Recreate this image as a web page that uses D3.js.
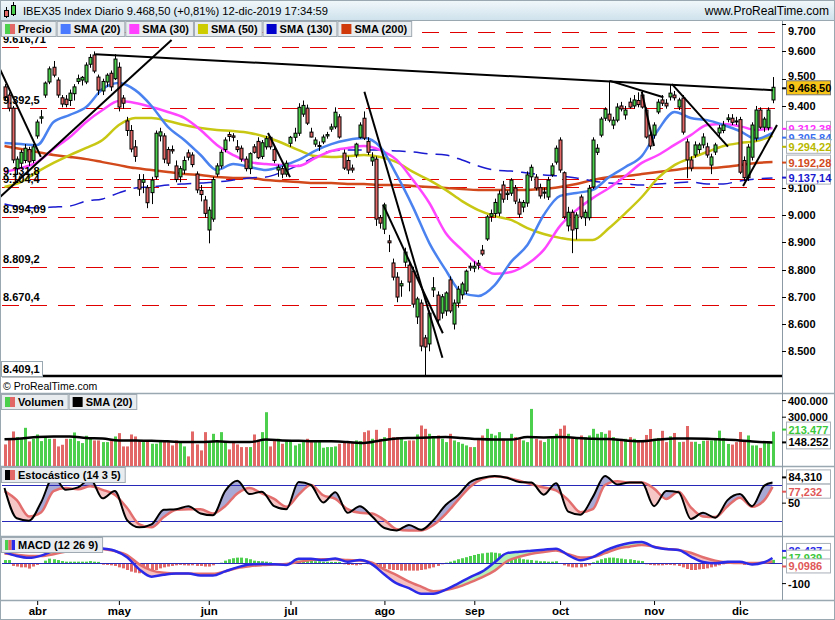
<!DOCTYPE html>
<html lang="es">
<head>
<meta charset="UTF-8">
<script src="https://d3js.org/d3.v7.min.js"></script>
<title>IBEX35 Diario</title>
<style>
  body { margin: 0; background: #fff; }
  text { font-family: "Liberation Sans", Arial, sans-serif; }
</style>
</head>
<body>
<div id="chart"></div>
<script>
// ---- values (bar index 0 = 20-mar-2019, 188 = 12-dic-2019) ----
const monthIdx = [8, 28, 50, 70, 93, 115, 136, 159, 180];
const monthLbl = ["abr", "may", "jun", "jul", "ago", "sep", "oct", "nov", "dic"];

const openP = [9470,9440,9392,9170,9190,9200,9240,9200,9290,9355,
  9440,9488,9542,9495,9430,9425,9420,9445,9490,9495,9488,9553,9587,9506,9455,9488,9520,9500,9542,9429,
  9345,9310,9250,9130,9120,9100,9082,9140,9290,9290,9240,9240,9180,9140,9165,9228,9220,9150,9090,9055,
  8945,8985,9150,9180,9240,9295,9290,9250,9245,9205,9170,9250,9270,9215,9250,9285,9240,9165,9170,9150,
  9263,9285,9300,9370,9392,9304,9260,9252,9268,9290,9315,9323,9360,9227,9200,9172,9220,9285,9355,9270,
  9198,9205,8990,8948,8905,8824,8772,8740,8827,8816,8794,8626,8677,8549,8527,8725,8706,8640,8648,8762,
  8600,8677,8707,8721,8812,8805,8823,8871,8912,8995,9005,9007,9110,9075,9080,9099,9047,9029,9044,9140,
  9139,9100,9080,9066,9147,9194,9275,9155,8960,9010,8950,9066,8990,8990,9103,9230,9293,9355,9370,9330,
  9348,9400,9367,9414,9400,9420,9440,9385,9293,9293,9378,9422,9410,9433,9440,9396,9429,9268,9202,9220,
  9240,9257,9250,9183,9231,9301,9310,9350,9355,9345,9350,9200,9137,9212,9282,9385,9322,9320,9422];
const highP = [9480,9450,9400,9215,9240,9260,9250,9260,9350,9385,
  9490,9545,9565,9505,9440,9440,9460,9480,9515,9510,9560,9590,9600,9515,9500,9520,9530,9590,9560,9440,
  9360,9330,9275,9150,9150,9110,9140,9310,9320,9300,9250,9255,9200,9180,9215,9240,9230,9160,9110,9070,
  9030,9140,9190,9240,9285,9305,9300,9275,9255,9215,9230,9260,9285,9275,9290,9290,9250,9185,9180,9200,
  9290,9320,9410,9420,9405,9320,9285,9270,9295,9305,9335,9395,9370,9240,9215,9185,9265,9340,9380,9285,
  9230,9215,9000,9045,8927,8840,8790,8760,8880,8830,8810,8700,8690,8560,8650,8772,8720,8710,8720,8775,
  8690,8740,8755,8800,8825,8830,8835,8890,9000,9020,9060,9090,9125,9090,9135,9110,9060,9055,9160,9185,
  9150,9115,9100,9140,9190,9255,9285,9160,9030,9020,9010,9075,9020,9110,9285,9260,9360,9395,9493,9360,
  9410,9415,9400,9430,9440,9450,9455,9395,9305,9340,9425,9440,9425,9480,9455,9430,9440,9280,9215,9270,
  9265,9300,9265,9225,9265,9330,9345,9370,9370,9360,9360,9215,9260,9340,9400,9395,9360,9395,9506];
const lowP = [9420,9380,9190,9150,9170,9190,9180,9190,9280,9335,
  9430,9480,9505,9430,9395,9395,9400,9420,9480,9475,9480,9540,9520,9440,9440,9470,9455,9495,9380,9390,
  9290,9230,9195,9070,9080,9025,9040,9130,9270,9190,9180,9225,9120,9120,9150,9200,9175,9080,9050,8990,
  8896,8975,9140,9170,9230,9270,9270,9230,9195,9160,9150,9225,9205,9205,9240,9240,9190,9140,9135,9140,
  9250,9270,9290,9360,9330,9285,9250,9235,9260,9280,9305,9315,9280,9165,9150,9155,9210,9280,9275,9220,
  9180,8960,8950,8930,8864,8760,8680,8700,8810,8720,8660,8600,8500,8409,8500,8699,8600,8620,8630,8640,
  8580,8660,8690,8710,8795,8790,8800,8850,8905,8975,8990,8995,9045,9055,9070,9040,8990,9010,9030,9125,
  9090,9060,9060,9055,9140,9185,9155,8985,8940,8860,8910,8985,8960,8980,9095,9220,9285,9345,9340,9315,
  9340,9380,9350,9390,9390,9395,9390,9280,9240,9280,9370,9400,9390,9420,9420,9385,9295,9135,9160,9210,
  9225,9245,9210,9150,9220,9290,9300,9340,9330,9330,9150,9125,9125,9200,9270,9315,9305,9310,9410];
const closeP = [9431,9392,9202,9205,9230,9245,9195,9250,9341,9360,
  9484,9536,9513,9440,9407,9405,9447,9470,9500,9505,9550,9578,9528,9458,9490,9513,9470,9572,9396,9410,
  9310,9242,9215,9095,9130,9045,9128,9300,9305,9205,9190,9235,9130,9170,9200,9212,9185,9092,9075,9006,
  9018,9130,9180,9230,9275,9288,9285,9240,9205,9170,9225,9230,9210,9265,9280,9250,9200,9175,9150,9190,
  9285,9300,9395,9402,9337,9286,9275,9255,9286,9295,9323,9377,9286,9172,9165,9165,9260,9330,9282,9230,
  9212,8985,8970,9037,8898,8772,8699,8748,8864,8754,8673,8692,8519,8516,8640,8733,8615,8700,8714,8648,
  8677,8728,8747,8794,8806,8812,8816,8857,8993,9005,9046,9077,9058,9080,9128,9051,9003,9046,9147,9175,
  9099,9070,9084,9128,9180,9245,9165,8993,9010,8945,9000,8993,9010,9098,9275,9245,9352,9388,9348,9348,
  9396,9389,9385,9396,9422,9405,9396,9286,9253,9330,9414,9410,9400,9447,9430,9422,9304,9202,9172,9257,
  9257,9286,9220,9213,9257,9319,9330,9356,9340,9342,9157,9137,9249,9330,9385,9322,9352,9385,9468.5];

const volK = [136,170,214,180,170,236,154,170,196,156,184,170,170,124,134,170,170,208,156,144,
  188,170,160,160,150,150,160,184,204,124,124,196,184,160,150,156,140,140,160,160,
  154,130,160,156,124,64,214,136,100,210,150,200,160,210,154,106,150,136,120,120,
  120,196,164,210,330,124,156,170,140,156,156,130,140,150,170,150,150,154,116,120,
  120,124,140,156,150,150,160,156,210,220,170,224,170,180,234,180,180,170,156,160,
  160,196,250,230,200,180,190,170,150,200,160,150,140,130,120,
  120,170,190,230,200,190,210,170,160,200,180,170,160,150,350,170,160,150,170,180,200,
  230,250,200,180,170,190,180,190,230,200,210,200,220,180,170,160,170,180,170,160,
  152,193,229,170,175,218,150,185,205,150,152,247,152,152,139,158,160,160,175,219,175,139,135,150,211,152,190,130,130,115,150,155,213];

// moving averages, read every 4th bar
const sma20 = [9264,9260,9257,9341,9367,9396,9462,9484,9458,9400,9323,9275,9220,9165,9187,9176,9165,9180,9202,9235,9260,9275,9282,9249,9147,9029,8897,8798,8714,8703,8743,8828,8890,9000,9070,9081,9092,9139,9176,9216,9312,9378,9356,9348,9330,9308,9279,9301];
const sma30 = [9158,9172,9194,9242,9286,9341,9385,9418,9411,9396,9378,9356,9312,9257,9220,9194,9187,9183,9180,9209,9235,9246,9253,9238,9202,9128,9044,8934,8872,8817,8784,8791,8820,8872,8960,9018,9062,9099,9143,9191,9220,9257,9293,9330,9334,9326,9312,9319];
const sma50 = [9103,9121,9158,9191,9220,9246,9275,9330,9356,9356,9345,9330,9319,9312,9308,9301,9286,9264,9238,9216,9213,9216,9220,9213,9194,9158,9128,9092,9051,9018,8996,8982,8952,8930,8916,8908,8908,8952,9007,9066,9136,9183,9209,9231,9253,9264,9271,9290];
const sma130 = [9040,9029,9026,9029,9033,9051,9059,9081,9099,9103,9110,9114,9117,9121,9128,9136,9139,9158,9183,9213,9235,9238,9238,9238,9235,9231,9224,9220,9202,9180,9165,9161,9154,9147,9143,9136,9125,9117,9114,9110,9114,9117,9121,9114,9114,9125,9132,9136];
const sma200 = [9253,9242,9231,9220,9213,9205,9194,9183,9172,9165,9158,9150,9147,9139,9136,9136,9128,9125,9121,9117,9117,9114,9114,9110,9110,9106,9103,9099,9095,9092,9092,9092,9092,9095,9103,9114,9128,9139,9143,9150,9158,9165,9172,9172,9176,9183,9191,9194];
const volSma = [167,172,180,183,183,175,172,160,160,158,155,150,150,155,150,150,165,160,158,155,155,150,145,160,172,175,178,180,175,168,165,165,180,178,180,175,170,168,160,155,165,172,172,170,165,160,152,148];

// stochastic and MACD, read every 3rd bar (last point = bar 188)
const stochK = [75,25,21,52,94,72,76,90,58,70,22,10,15,39,40,45,33,30,70,87,65,69,45,40,85,80,51,68,34,45,28,9,5,14,6,22,47,63,85,92,95,92,85,84,64,83,36,31,60,95,81,84,84,45,70,68,24,34,26,55,65,45,79,84];
const stochD = [70,55,28,35,70,75,73,78,72,64,42,15,10,27,39,40,40,33,45,66,75,66,57,44,64,80,63,57,40,34,33,22,7,5,5,14,32,55,77,90,94,92,87,81,76,71,55,35,40,80,86,84,84,74,57,69,43,28,27,45,59,44,55,77];
const macdL = [55,36,27,38,62,80,88,85,73,62,30,-30,-66,-56,-50,-50,-60,-60,-40,-20,-6,-3,-5,-8,22,22,16,24,8,16,-5,-55,-99,-122,-150,-150,-130,-100,-68,-40,5,50,57,62,67,72,40,15,30,62,85,100,105,80,70,66,33,6,0,8,8,-6,5,26];
const signalL = [48,42,36,36,45,58,70,74,70,60,40,-5,-35,-47,-50,-50,-52,-52,-40,-23,-14,-9,-6,-3,7,16,20,20,16,14,3,-30,-58,-90,-115,-138,-132,-117,-94,-68,-36,10,32,47,56,63,45,28,31,50,72,82,90,82,71,66,52,30,13,4,1,1,4,9];
const histo = [16,16,-13,-16,-20,-20,-26,-16,-8,-3,13,23,20,16,11,8,8,8,8,8,
  8,11,8,7,-7,-8,-10,-13,-20,-25,-33,-41,-46,-49,-49,-44,-36,-33,-25,-20,
  -16,-13,-10,-8,-10,-11,-10,-13,-13,-16,-16,-10,-3,3,13,20,25,28,28,25,
  20,13,11,10,8,5,-3,-5,-3,-3,7,11,20,23,20,13,10,10,8,8,
  7,7,7,-5,-8,-8,-10,-7,-3,-5,-10,-16,-25,-25,-30,-33,-33,-36,-36,-36,
  -36,-36,-33,-30,-25,-20,-13,-5,3,8,13,20,25,30,36,41,46,49,52,54,
  52,49,44,38,33,28,25,20,18,16,13,10,10,8,8,10,-3,-10,-16,-20,
  -20,-20,-16,-10,5,13,20,25,28,28,25,23,20,20,16,13,
  11,-5,-8,-10,-10,-10,-8,-8,-10,-13,-20,-28,-33,-33,-30,-28,-25,-20,-16,-10,-5,-3,2,3,-3,-8,-8,-5,-3,-3,2,8,17];

// horizontal levels drawn on the chart
const levels = [9672, 9616.71, 9392.5, 9131.8, 9104.4, 8994.09, 8809.2, 8670.4];
const levelLbl = ["", "9.616,71", "9.392,5", "9.131,8", "9.104,4", "8.994,09", "8.809,2", "8.670,4"];
// trend lines [bar, price, bar, price]
const trendLines = [
  [-1.1, 9535, 8.9, 9213], [-1.1, 9066, 40.9, 9642], [22.2, 9590, 188.1, 9458],
  [64.5, 9301, 69.9, 9139], [88.1, 9452, 107.2, 8476], [92.7, 9037, 107.3, 8566],
  [148.2, 9492, 161.3, 9432], [163.4, 9480, 177.1, 9251], [156, 9452, 159, 9253],
  [180.8, 9106, 189.1, 9330]];
const supportLevel = 8409.1;

const N = closeP.length;
const es = d3.formatLocale({decimal: ",", thousands: ".", grouping: [3], currency: ["", "€"]});
const f0 = es.format(",.0f");

const W = 835, H = 620, R = 782;
const FS = 11;
const svg = d3.select("#chart").append("svg").attr("width", W).attr("height", H).style("display", "block");
const defs = svg.append("defs");

const x = d3.scaleLinear().domain([0, 188]).range([4.5, 772.5]);
const y = d3.scaleLinear().domain([8809.2, 9392.5]).range([267, 108]);
const yv = d3.scaleLinear().domain([0, 400]).range([467, 400.6]);
const ys = d3.scaleLinear().domain([20, 80]).range([521.3, 485]);
const ym = d3.scaleLinear().domain([-100, 100]).range([583.6, 543]);

const GREEN = "#4ccf4c", RED = "#e26868";
const up = i => closeP[i] >= openP[i];

function clip(id, y0, y1) {
  defs.append("clipPath").attr("id", id).append("rect").attr("x", 1).attr("y", y0).attr("width", R - 1).attr("height", y1 - y0);
}
clip("cMain", 21, 393); clip("cVol", 394, 466); clip("cSto", 467, 536); clip("cMacd", 537, 600);

// background and title bar
svg.append("rect").attr("width", W).attr("height", H).attr("fill", "#fff");
const grad = defs.append("linearGradient").attr("id", "tg").attr("x1", 0).attr("x2", 0).attr("y1", 0).attr("y2", 1);
grad.append("stop").attr("offset", 0).attr("stop-color", "#f2f8fb");
grad.append("stop").attr("offset", 1).attr("stop-color", "#cfe2ec");
svg.append("rect").attr("x", 0).attr("y", 0).attr("width", W).attr("height", 20).attr("fill", "url(#tg)");
svg.append("line").attr("x1", 0).attr("x2", W).attr("y1", 20.5).attr("y2", 20.5).attr("stroke", "#9aa8b2");
svg.append("line").attr("x1", 6.5).attr("x2", 6.5).attr("y1", 7).attr("y2", 18).attr("stroke", "#000");
svg.append("rect").attr("x", 4.5).attr("y", 10.5).attr("width", 4).attr("height", 6).attr("fill", RED).attr("stroke", "#000");
svg.append("line").attr("x1", 13.5).attr("x2", 13.5).attr("y1", 2).attr("y2", 16).attr("stroke", "#000");
svg.append("rect").attr("x", 11.5).attr("y", 5.5).attr("width", 4).attr("height", 9).attr("fill", GREEN).attr("stroke", "#000");
svg.append("text").attr("x", 23).attr("y", 15).attr("font-size", 11.2).text("IBEX35 Index Diario 9.468,50 (+0,81%) 12-dic-2019 17:34:59");
svg.append("text").attr("x", 829).attr("y", 15).attr("font-size", 12).attr("text-anchor", "end").text("www.ProRealTime.com");

// panel frames
[393.5, 466.5, 536.5, 600.5].forEach(v => svg.append("line").attr("x1", 0).attr("x2", W).attr("y1", v).attr("y2", v).attr("stroke", "#9aa8b2").attr("stroke-width", 1.5));
svg.append("line").attr("x1", R + 0.5).attr("x2", R + 0.5).attr("y1", 21).attr("y2", 600).attr("stroke", "#8c9aa6");
svg.append("rect").attr("x", 0.5).attr("y", 0.5).attr("width", W - 1).attr("height", H - 1).attr("fill", "none").attr("stroke", "#9aa8b2");

// ---- main price panel ----
const gm = svg.append("g").attr("clip-path", "url(#cMain)");
gm.selectAll("line.lev").data(levels).join("line")
  .attr("x1", 2).attr("x2", R).attr("y1", d => Math.round(y(d)) + 0.5).attr("y2", d => Math.round(y(d)) + 0.5)
  .attr("stroke", "#e00000").attr("stroke-dasharray", "17,11");

const smaIdx = d3.range(0, 189, 4);
const smaLine = d3.line().x((d, i) => x(smaIdx[i])).y(d => y(d)).curve(d3.curveMonotoneX);
gm.append("path").attr("d", smaLine(sma200)).attr("fill", "none").attr("stroke", "#d24a1c").attr("stroke-width", 2.5);
gm.append("path").attr("d", smaLine(sma130)).attr("fill", "none").attr("stroke", "#1a1ad0").attr("stroke-width", 1.5).attr("stroke-dasharray", "14,8");
gm.append("path").attr("d", smaLine(sma50)).attr("fill", "none").attr("stroke", "#c8c814").attr("stroke-width", 2.5);
gm.append("path").attr("d", smaLine(sma30)).attr("fill", "none").attr("stroke", "#ff45ff").attr("stroke-width", 2.5);
gm.append("path").attr("d", smaLine(sma20)).attr("fill", "none").attr("stroke", "#4a82f0").attr("stroke-width", 2.5);

const bars = d3.range(N);
const cx = i => Math.round(x(i)) + 0.5;
gm.selectAll("line.wick").data(bars).join("line")
  .attr("x1", cx).attr("x2", cx).attr("y1", i => y(highP[i])).attr("y2", i => y(lowP[i]))
  .attr("stroke", "#000");
gm.selectAll("rect.body").data(bars).join("rect")
  .attr("x", i => cx(i) - 1.5).attr("width", 3)
  .attr("y", i => y(Math.max(openP[i], closeP[i])))
  .attr("height", i => Math.max(1, Math.abs(y(openP[i]) - y(closeP[i]))))
  .attr("fill", i => up(i) ? GREEN : RED)
  .attr("stroke", "#000").attr("stroke-width", 1);

gm.selectAll("line.trend").data(trendLines).join("line")
  .attr("x1", d => x(d[0])).attr("y1", d => y(d[1])).attr("x2", d => x(d[2])).attr("y2", d => y(d[3]))
  .attr("stroke", "#000").attr("stroke-width", 2);
gm.append("line").attr("x1", 2).attr("x2", R).attr("y1", y(supportLevel)).attr("y2", y(supportLevel)).attr("stroke", "#000").attr("stroke-width", 2.5);

gm.selectAll("text.lev").data(levels).join("text")
  .attr("x", 3).attr("y", d => y(d) - 4).attr("font-size", FS).attr("font-weight", "bold")
  .text((d, i) => levelLbl[i]);
gm.append("rect").attr("x", 1.5).attr("y", 361.5).attr("width", 41).attr("height", 15).attr("fill", "#fff").attr("stroke", "#9aa8b2");
gm.append("text").attr("x", 3).attr("y", 373).attr("font-size", FS).attr("font-weight", "bold").text("8.409,1");
svg.append("text").attr("x", 3).attr("y", 390).attr("font-size", 10.5).text("© ProRealTime.com");

// price axis
const priceTicks = [8500, 8600, 8700, 8800, 8900, 9000, 9100, 9400, 9500, 9600, 9700];
const ga = svg.append("g");
ga.selectAll("line").data(priceTicks).join("line")
  .attr("x1", R).attr("x2", R + 4).attr("y1", d => Math.round(y(d)) + 0.5).attr("y2", d => Math.round(y(d)) + 0.5).attr("stroke", "#000");
ga.selectAll("text").data(priceTicks).join("text")
  .attr("x", 788).attr("y", d => Math.max(y(d) - (d === 9500 ? 3 : 0), 31) + 4).attr("font-size", FS).attr("font-weight", "bold").text(d => f0(d));

// value tags on the right
function tag(yc, txt, color, bg) {
  svg.append("line").attr("x1", R).attr("x2", R + 5).attr("y1", yc).attr("y2", yc).attr("stroke", color).attr("stroke-width", 2);
  svg.append("rect").attr("x", 786.5).attr("y", yc - 7.5).attr("width", 44).attr("height", 14)
    .attr("fill", bg || "#fff").attr("stroke", bg ? "#777" : "#a8b0b8");
  svg.append("text").attr("x", 788.5).attr("y", yc + 4).attr("font-size", FS).attr("font-weight", "bold").attr("fill", bg ? "#000" : color).text(txt);
}
tag(y(9468.5) + 1, "9.468,50", "#000", "#f6c417");
tag(y(9312.38) - 1, "9.312,38", "#ff30ff");
tag(y(9305.84) + 6, "9.305,84", "#3a6ff0");
tag(y(9294.22) + 12, "9.294,22", "#b8b800");
tag(y(9192.28), "9.192,28", "#d24a1c");
tag(y(9137.14), "9.137,14", "#1a1ad0");

// ---- volume panel ----
const gv = svg.append("g").attr("clip-path", "url(#cVol)");
gv.selectAll("rect").data(bars).join("rect")
  .attr("x", i => Math.round(x(i)) - 1).attr("width", 3)
  .attr("y", i => yv(volK[i])).attr("height", i => yv(0) - yv(volK[i]))
  .attr("fill", i => up(i) ? GREEN : RED);
gv.append("path").attr("d", d3.line().x((d, i) => x(smaIdx[i])).y(d => yv(d)).curve(d3.curveMonotoneX)(volSma))
  .attr("fill", "none").attr("stroke", "#000").attr("stroke-width", 2.5);
const volTicks = [300, 400];
svg.selectAll("text.vt").data(volTicks).join("text").attr("class", "vt")
  .attr("x", 788).attr("y", d => yv(d) + 4).attr("font-size", FS).attr("font-weight", "bold").text(d => f0(d * 1000));
svg.selectAll("line.vt").data(volTicks).join("line").attr("class", "vt")
  .attr("x1", R).attr("x2", R + 4).attr("y1", d => yv(d)).attr("y2", d => yv(d)).attr("stroke", "#000");
tag(yv(213.477) - 2, "213.477", "#3cc83c");
tag(yv(148.252), "148.252", "#000");

// ---- stochastic panel ----
const sIdx = d3.range(0, 187, 3).concat([188]);
const gs = svg.append("g").attr("clip-path", "url(#cSto)");
const kLine = d3.line().x((d, i) => x(sIdx[i])).y(d => ys(d)).curve(d3.curveMonotoneX);
function diffFill(g, a, b, sc, top, bot, upColor, dnColor, idp) {
  const pts = a.map((v, i) => [x(sIdx[i]), sc(v), sc(b[i])]);
  const between = d3.area().x(d => d[0]).y0(d => d[1]).y1(d => d[2]).curve(d3.curveMonotoneX);
  const above = d3.area().x(d => d[0]).y0(top).y1(d => d[2]).curve(d3.curveMonotoneX);
  const below = d3.area().x(d => d[0]).y0(d => d[2]).y1(bot).curve(d3.curveMonotoneX);
  defs.append("clipPath").attr("id", idp + "A").append("path").attr("d", above(pts));
  defs.append("clipPath").attr("id", idp + "B").append("path").attr("d", below(pts));
  g.append("path").attr("d", between(pts)).attr("fill", upColor).attr("clip-path", `url(#${idp}A)`);
  g.append("path").attr("d", between(pts)).attr("fill", dnColor).attr("clip-path", `url(#${idp}B)`);
}
diffFill(gs, stochK, stochD, ys, 460, 540, "#a9a9d6", "#f6c6c6", "sf");
[80, 20].forEach(v => gs.append("line").attr("x1", 2).attr("x2", R).attr("y1", Math.round(ys(v)) + 0.5).attr("y2", Math.round(ys(v)) + 0.5).attr("stroke", "#2828b8"));
gs.append("path").attr("d", kLine(stochD)).attr("fill", "none").attr("stroke", "#e36e6e").attr("stroke-width", 2.5);
gs.append("path").attr("d", kLine(stochK)).attr("fill", "none").attr("stroke", "#000").attr("stroke-width", 2);
svg.append("text").attr("x", 788).attr("y", ys(50) + 4).attr("font-size", FS).attr("font-weight", "bold").text("50");
svg.append("line").attr("x1", R).attr("x2", R + 4).attr("y1", ys(50)).attr("y2", ys(50)).attr("stroke", "#000");
tag(ys(84.31) - 5, "84,310", "#000");
tag(ys(77.232) + 5, "77,232", "#e05858");

// ---- MACD panel ----
const gd = svg.append("g").attr("clip-path", "url(#cMacd)");
gd.selectAll("rect").data(bars).join("rect")
  .attr("x", i => Math.round(x(i)) - 1).attr("width", 3)
  .attr("y", i => Math.min(ym(histo[i]), ym(0))).attr("height", i => Math.abs(ym(histo[i]) - ym(0)))
  .attr("fill", i => histo[i] >= 0 ? GREEN : RED);
diffFill(gd, macdL, signalL, ym, 530, 610, "#b4f0b4", "#f6c0c0", "mf");
gd.append("line").attr("x1", 2).attr("x2", R).attr("y1", Math.round(ym(0)) + 0.5).attr("y2", Math.round(ym(0)) + 0.5).attr("stroke", "#2828b8");
gd.append("path").attr("d", kLine.y(d => ym(d))(signalL)).attr("fill", "none").attr("stroke", "#e36e6e").attr("stroke-width", 2.5);
gd.append("path").attr("d", kLine(macdL)).attr("fill", "none").attr("stroke", "#2a2ae8").attr("stroke-width", 2.5);
svg.append("text").attr("x", 788).attr("y", ym(-100) + 4).attr("font-size", FS).attr("font-weight", "bold").text("-100");
svg.append("line").attr("x1", R).attr("x2", R + 4).attr("y1", ym(-100)).attr("y2", ym(-100)).attr("stroke", "#000");
tag(ym(26.437) - 7, "26,437", "#2a2ae8");
tag(ym(17.939) - 2, "17,939", "#3cc83c");
tag(ym(9.0986) + 5, "9,0986", "#e05858");

// ---- x axis ----
const gx = svg.append("g").attr("transform", "translate(0,601)");
gx.call(d3.axisBottom(x).tickValues(monthIdx).tickSize(4).tickFormat((d, i) => monthLbl[i]));
gx.select(".domain").remove();
gx.selectAll("text").attr("font-size", 11.5).attr("font-weight", "bold").attr("font-family", "Liberation Sans, Arial, sans-serif").attr("dy", "0.6em");

// ---- legends ----
function legend(x0, y0, items) {
  let cxp = x0;
  items.forEach(it => {
    const g = svg.append("g");
    const t = g.append("text").attr("x", cxp + 17).attr("y", y0 + 12).attr("font-size", FS).attr("font-weight", "bold").text(it.label);
    const w = t.node().getComputedTextLength() + 21;
    g.insert("rect", "text").attr("x", cxp + 0.5).attr("y", y0 + 0.5).attr("width", w).attr("height", 15).attr("fill", "#e8ecef").attr("stroke", "#a0aab2");
    const sw = 10 / it.colors.length;
    it.colors.forEach((c, k) => g.insert("rect", "text").attr("x", cxp + 4 + k * sw).attr("y", y0 + 3).attr("width", sw).attr("height", 10).attr("fill", c));
    cxp += w + 1;
  });
}
legend(1, 21, [
  {label: "Precio", colors: [GREEN, RED]}, {label: "SMA (20)", colors: ["#4a7aff"]},
  {label: "SMA (30)", colors: ["#ff40ff"]}, {label: "SMA (50)", colors: ["#cccc00"]},
  {label: "SMA (130)", colors: ["#0000cc"]}, {label: "SMA (200)", colors: ["#d03a0a"]}]);
legend(1, 394, [{label: "Volumen", colors: [GREEN, RED]}, {label: "SMA (20)", colors: ["#000"]}]);
legend(1, 467, [{label: "Estocástico (14 3 5)", colors: ["#000", RED]}]);
legend(1, 537, [{label: "MACD (12 26 9)", colors: [GREEN, RED, "#2a2ae8"]}]);
</script>
</body>
</html>
